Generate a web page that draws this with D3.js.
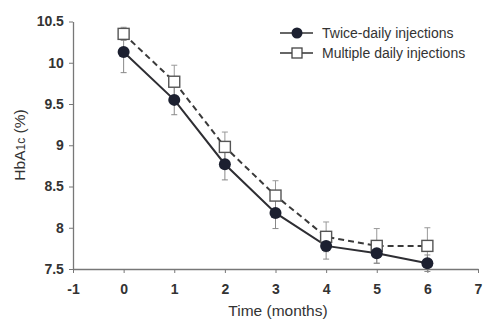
<!DOCTYPE html>
<html>
<head>
<meta charset="utf-8">
<script src="https://cdn.jsdelivr.net/npm/d3@7"></script>
<style>
  body { margin: 0; background: #fff; }
  text { font-family: "Liberation Sans", Arial, sans-serif; }
</style>
</head>
<body>
<svg id="chart"></svg>
<script>
const width = 484;
const height = 321;

const months = [0, 1, 2, 3, 4, 5, 6];
const twiceDaily = [10.13, 9.55, 8.77, 8.18, 7.78, 7.69, 7.57];
const twiceErr = [0.25, 0.18, 0.19, 0.19, 0.16, 0.12, 0.1];
const multiDaily = [10.35, 9.77, 8.98, 8.39, 7.89, 7.78, 7.78];
const multiErr = [0.08, 0.2, 0.18, 0.18, 0.18, 0.21, 0.22];
const xTicks = [-1, 0, 1, 2, 3, 4, 5, 6, 7];
const yTicks = [7.5, 8, 8.5, 9, 9.5, 10, 10.5];

const svg = d3.select('#chart')
    .attr('width', width)
    .attr('height', height);

const x = d3.scaleLinear().domain([-1, 7]).range([73, 478]);
const y = d3.scaleLinear().domain([7.5, 10.5]).range([269, 21.5]);

const axisColor = '#777';
const textColor = '#333';

// axes
const xAxis = svg.append('g')
    .attr('transform', `translate(0,${y(7.5)})`)
    .call(d3.axisBottom(x).tickValues(xTicks).tickFormat(d => String(d)).tickSize(4).tickSizeOuter(0));
const yAxis = svg.append('g')
    .attr('transform', `translate(${x(-1)},0)`)
    .call(d3.axisLeft(y).tickValues(yTicks).tickFormat(d => String(d)).tickSize(4).tickSizeOuter(0));

[xAxis, yAxis].forEach(g => {
    g.select('.domain').attr('stroke', axisColor).attr('stroke-width', 1.3);
    g.selectAll('.tick line').attr('stroke', axisColor);
    g.selectAll('.tick text')
        .attr('fill', textColor)
        .style('font-size', '14px')
        .style('font-weight', 'bold');
});
xAxis.selectAll('.tick text').attr('dy', '1.25em');
yAxis.selectAll('.tick text').attr('dx', '-0.15em');

// axis titles
svg.append('text')
    .attr('x', 278).attr('y', 316)
    .attr('text-anchor', 'middle')
    .attr('fill', textColor)
    .style('font-size', '15.5px')
    .text('Time (months)');

const yl = svg.append('text')
    .attr('transform', 'translate(25,145) rotate(-90)')
    .attr('text-anchor', 'middle')
    .attr('fill', textColor)
    .style('font-size', '15.5px');
yl.append('tspan').text('HbA');
yl.append('tspan').style('font-size', '12px').text('1c');
yl.append('tspan').text(' (%)');

const line = d3.line()
    .x((d, i) => x(months[i]))
    .y(d => y(d));

// error bars
function errorBars(vals, errs, color) {
    const g = svg.append('g').attr('stroke', color).attr('stroke-width', 1);
    months.forEach((m, i) => {
        const lo = y(vals[i] - errs[i]), hi = y(vals[i] + errs[i]);
        g.append('line').attr('x1', x(m)).attr('x2', x(m)).attr('y1', lo).attr('y2', hi);
        g.append('line').attr('x1', x(m) - 3).attr('x2', x(m) + 3).attr('y1', lo).attr('y2', lo);
        g.append('line').attr('x1', x(m) - 3).attr('x2', x(m) + 3).attr('y1', hi).attr('y2', hi);
    });
}
errorBars(multiDaily, multiErr, '#999');
errorBars(twiceDaily, twiceErr, '#888');

svg.append('path')
    .datum(multiDaily)
    .attr('d', line)
    .attr('fill', 'none')
    .attr('stroke', '#3a3a3a')
    .attr('stroke-width', 2)
    .attr('stroke-dasharray', '6,4');

svg.append('path')
    .datum(twiceDaily)
    .attr('d', line)
    .attr('fill', 'none')
    .attr('stroke', '#2e2e33')
    .attr('stroke-width', 2);

svg.selectAll('rect.mdi')
    .data(multiDaily)
    .join('rect')
    .attr('class', 'mdi')
    .attr('x', (d, i) => x(months[i]) - 5.5)
    .attr('y', d => y(d) - 5.5)
    .attr('width', 11).attr('height', 11)
    .attr('fill', '#fff')
    .attr('stroke', '#555')
    .attr('stroke-width', 1.4);

svg.selectAll('circle.tdi')
    .data(twiceDaily)
    .join('circle')
    .attr('class', 'tdi')
    .attr('cx', (d, i) => x(months[i]))
    .attr('cy', d => y(d))
    .attr('r', 6)
    .attr('fill', '#1c2030');

// legend
const legend = svg.append('g');
legend.append('line').attr('x1', 280).attr('x2', 313).attr('y1', 33).attr('y2', 33)
    .attr('stroke', '#333').attr('stroke-width', 1.5);
legend.append('circle').attr('cx', 297).attr('cy', 33).attr('r', 5.5).attr('fill', '#1c2030');
legend.append('line').attr('x1', 280).attr('x2', 313).attr('y1', 53).attr('y2', 53)
    .attr('stroke', '#333').attr('stroke-width', 1.5);
legend.append('rect').attr('x', 292).attr('y', 48).attr('width', 10).attr('height', 10)
    .attr('fill', '#fff').attr('stroke', '#444').attr('stroke-width', 1.3);
legend.append('text').attr('x', 322).attr('y', 38).attr('fill', textColor)
    .style('font-size', '14px').text('Twice-daily injections');
legend.append('text').attr('x', 322).attr('y', 58).attr('fill', textColor)
    .style('font-size', '14px').text('Multiple daily injections');
</script>
</body>
</html>
